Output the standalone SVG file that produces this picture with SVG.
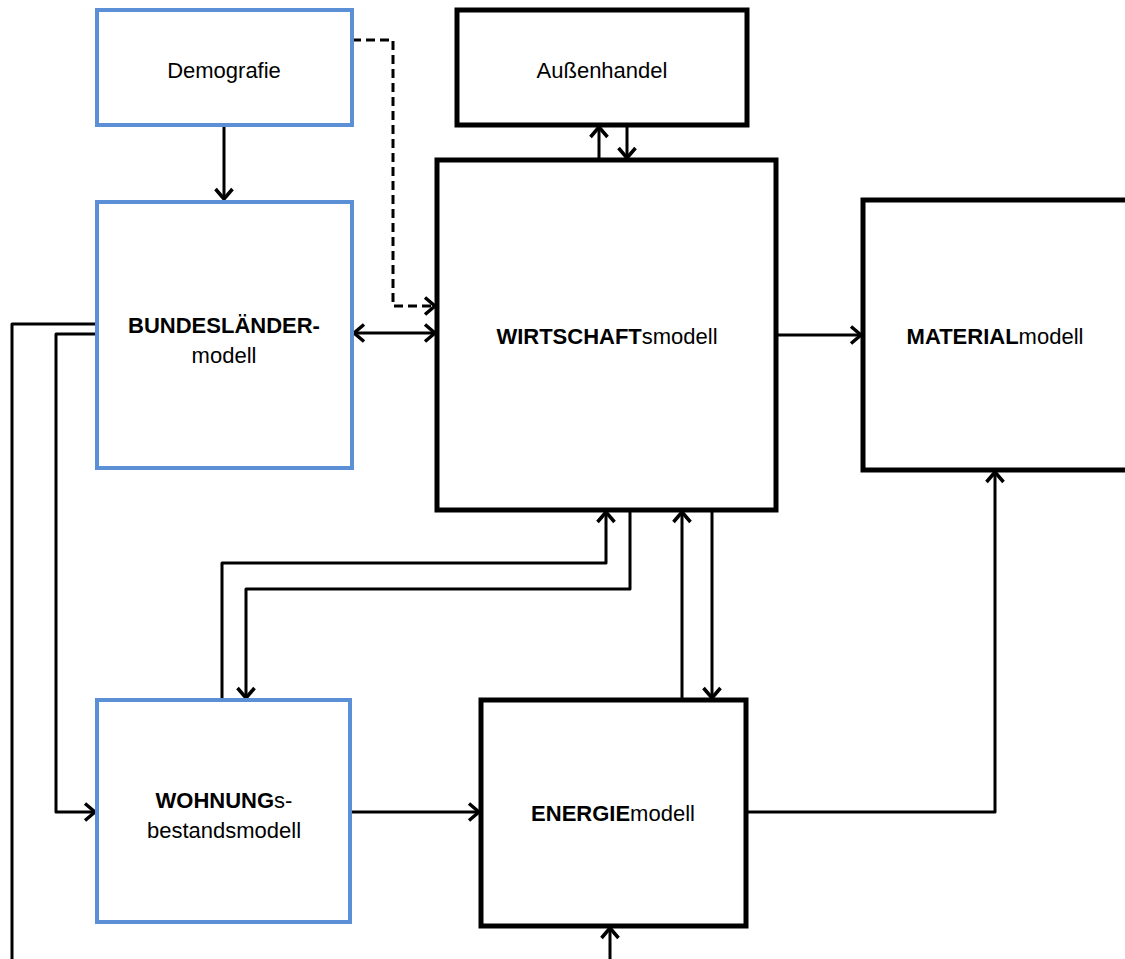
<svg xmlns="http://www.w3.org/2000/svg" width="1125" height="959" viewBox="0 0 1125 959">
<style>
.blue{fill:#fff;stroke:#5b8fd6;stroke-width:4}
.blk{fill:#fff;stroke:#000;stroke-width:5}
.c{fill:none;stroke:#000;stroke-width:3;stroke-linejoin:round}
.d{stroke-dasharray:9,5}
text{font-family:"Liberation Sans",Arial,sans-serif;font-size:22px;fill:#000;text-anchor:middle}
.b{font-weight:bold}
</style>
<defs>
<marker id="a" markerWidth="14" markerHeight="20" refX="12" refY="10" orient="auto" markerUnits="userSpaceOnUse">
<path d="M2,1.5 L12,10 L2,18.5" fill="none" stroke="#000" stroke-width="3.5"/>
</marker>
<marker id="s" markerWidth="14" markerHeight="20" refX="2" refY="10" orient="auto" markerUnits="userSpaceOnUse">
<path d="M12,1.5 L2,10 L12,18.5" fill="none" stroke="#000" stroke-width="3.5"/>
</marker>
</defs>
<rect width="1125" height="959" fill="#fff"/>
<g id="connectors">
<path class="c" d="M224,125 V199" marker-end="url(#a)"/>
<path class="c d" d="M352,40 H393 V306 H435" marker-end="url(#a)"/>
<path class="c" d="M354,333 H435" marker-start="url(#s)" marker-end="url(#a)"/>
<path class="c" d="M599,160 V127" marker-end="url(#a)"/>
<path class="c" d="M627,125 V158" marker-end="url(#a)"/>
<path class="c" d="M776,335 H861" marker-end="url(#a)"/>
<path class="c" d="M222,700 V563 H606 V512" marker-end="url(#a)"/>
<path class="c" d="M630,510 V589 H246 V698" marker-end="url(#a)"/>
<path class="c" d="M682,700 V512" marker-end="url(#a)"/>
<path class="c" d="M712,510 V698" marker-end="url(#a)"/>
<path class="c" d="M746,812 H995 V472" marker-end="url(#a)"/>
<path class="c" d="M350,812 H479" marker-end="url(#a)"/>
<path class="c" d="M610,959 V928" marker-end="url(#a)"/>
<path class="c" d="M97,324 H12 V959"/>
<path class="c" d="M97,334 H56 V812 H95" marker-end="url(#a)"/>
</g>
<g id="demografie"><rect class="blue" x="97" y="10" width="255" height="115"/><text x="224" y="78">Demografie</text></g>
<g id="aussenhandel"><rect class="blk" x="457" y="10" width="290" height="115"/><text x="602" y="78">Außenhandel</text></g>
<g id="bundeslaender"><rect class="blue" x="97" y="202" width="255" height="266"/><text x="224" y="333" class="b">BUNDESLÄNDER-</text><text x="224" y="363">modell</text></g>
<g id="wirtschaft"><rect class="blk" x="437" y="160" width="339" height="350"/><text x="607" y="344"><tspan class="b">WIRTSCHAFT</tspan>smodell</text></g>
<g id="material"><rect class="blk" x="863" y="200" width="270" height="270"/><text x="995" y="344"><tspan class="b">MATERIAL</tspan>modell</text></g>
<g id="wohnung"><rect class="blue" x="97" y="700" width="253" height="222"/><text x="224" y="808"><tspan class="b">WOHNUNG</tspan>s-</text><text x="224" y="838">bestandsmodell</text></g>
<g id="energie"><rect class="blk" x="481" y="700" width="265" height="226"/><text x="613" y="821"><tspan class="b">ENERGIE</tspan>modell</text></g>
</svg>
